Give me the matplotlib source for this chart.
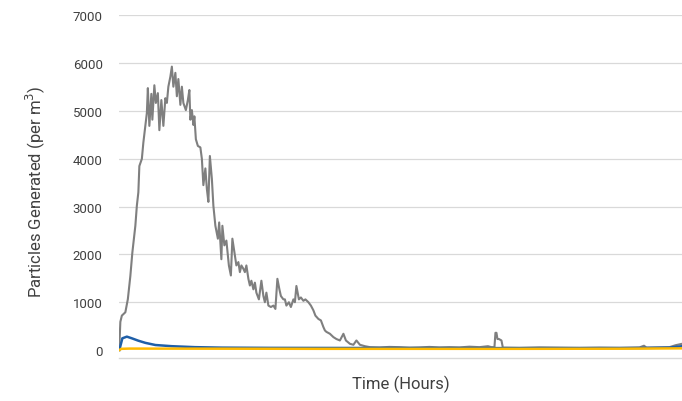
import matplotlib
matplotlib.use('Agg')
import matplotlib.pyplot as plt

# Data (time in hours, particles per m^3)
gray_hours = [0.0, 0.1, 0.25, 0.6, 0.85, 1.1, 1.3, 1.6, 1.75, 1.9, 2.0, 2.25, 2.4, 2.6, 2.75,
              2.85, 3.0, 3.2, 3.3, 3.5, 3.65, 3.85, 4.0, 4.2, 4.4, 4.6, 4.75, 4.9, 5.1, 5.25,
              5.4, 5.6, 5.75, 5.9, 6.1, 6.25, 6.4, 6.65, 6.85, 7.0, 7.1, 7.25, 7.4, 7.5, 7.65,
              7.85, 8.1, 8.25, 8.4, 8.6, 8.75, 8.9, 9.05, 9.25, 9.4, 9.6, 9.85, 9.98, 10.2,
              10.3, 10.5, 10.7, 10.95, 11.15, 11.3, 11.5, 11.7, 11.9, 12.05, 12.2, 12.4, 12.55,
              12.7, 12.9, 13.05, 13.2, 13.4, 13.55, 13.7, 13.95, 14.2, 14.4, 14.55, 14.7, 14.9,
              15.15, 15.4, 15.6, 15.8, 16.0, 16.15, 16.4, 16.55, 16.7, 16.95, 17.15, 17.4,
              17.55, 17.7, 17.95, 18.15, 18.4, 18.6, 18.9, 19.15, 19.4, 19.6, 19.9, 20.15,
              20.4, 20.55, 20.7, 21.05, 21.4, 21.7, 22.05, 22.4, 22.65, 23.05, 23.4, 23.7,
              24.05, 24.55, 25.05, 26, 27, 28, 29, 30, 31, 32, 33, 34, 35, 36, 36.85, 37.2,
              37.5, 37.6, 37.7, 37.8, 37.95, 38.2, 38.35, 38.5, 40, 42, 44, 46, 48, 50, 52,
              52.45, 52.7, 54, 55, 55.6, 56.25]
gray_values = [80, 590, 720, 790, 1065, 1550, 2040, 2600, 3020, 3300, 3850, 4000, 4340, 4690, 4960,
               5480, 4690, 5360, 4820, 5540, 5170, 5375, 4600, 5230, 4690, 5270, 5170, 5510, 5720, 5930,
               5510, 5800, 5310, 5670, 5130, 5510, 5170, 5020, 5230, 5440, 4820, 5020, 4710, 4890, 4410,
               4270, 4240, 4000, 3450, 3800, 3370, 3100, 4060, 3580, 3020, 2600, 2330, 2670, 1900,
               2600, 2190, 2290, 1770, 1560, 2330, 2050, 1770, 1840, 1630, 1770, 1700, 1630,
               1770, 1490, 1350, 1450, 1270, 1410, 1200, 1060, 1450, 1130, 1000, 1200, 930,
               900, 930, 860, 1490, 1270, 1130, 1060, 1060, 930, 1000, 900, 1060,
               1000, 1340, 1060, 1100, 1030, 1060, 1000, 930, 830, 720, 650, 620,
               480, 410, 380, 340, 270, 230, 200, 340, 200, 130, 110, 200,
               110, 80, 60, 55, 65, 60, 50, 55, 65, 55, 60, 55, 70, 60, 80, 60,
               60, 360, 360, 230, 230, 200, 40, 50, 45, 55, 50, 45, 50, 45, 55,
               90, 50, 55, 60, 100, 130]

blue_hours = [0.0, 0.3, 0.75, 1.25, 1.9, 2.6, 3.6, 5.25, 7.55, 10.25, 15, 25, 35, 45, 52, 55, 56.25]
blue_values = [0, 245, 280, 245, 195, 150, 105, 80, 60, 50, 45, 42, 40, 40, 42, 50, 80]

yellow_hours = [0.0, 0.2, 1, 10, 20, 30, 40, 50, 56.25]
yellow_values = [0, 25, 30, 28, 25, 25, 25, 28, 35]

y_ticks = [0, 1000, 2000, 3000, 4000, 5000, 6000, 7000]

plt.rcParams['font.family'] = ['Roboto', 'DejaVu Sans']

fig = plt.figure(figsize=(6.82, 4.02), dpi=100)
ax = fig.add_axes([0.175, 0.106, 0.825, 0.853])

ax.plot(gray_hours, gray_values, color='#7f7f7f', linewidth=1.5)
ax.plot(blue_hours, blue_values, color='#1f5fa8', linewidth=1.8)
ax.plot(yellow_hours, yellow_values, color='#ffb900', linewidth=1.8)

ax.set_xlim(0, 56.25)
ax.set_ylim(-175, 7000)
ax.set_yticks(y_ticks)
ax.set_yticklabels([str(v) for v in y_ticks], fontsize=9.5, color='#404040')
ax.set_xticks([])
ax.tick_params(axis='y', length=0, pad=12)

ax.yaxis.grid(True, color='#d9d9d9', linewidth=0.9)
ax.get_ygridlines()[0].set_visible(False)
ax.set_axisbelow(True)

for side in ['top', 'right', 'left']:
    ax.spines[side].set_visible(False)
ax.spines['bottom'].set_color('#d9d9d9')
ax.spines['bottom'].set_linewidth(1.0)

ax.set_ylabel('Particles Generated (per m$^3$)', fontsize=12, color='#404040')
ax.yaxis.set_label_coords(-0.129, 0.49)
ax.set_xlabel('Time (Hours)', fontsize=12, color='#404040', labelpad=12)

fig.savefig('out.png', dpi=100)
